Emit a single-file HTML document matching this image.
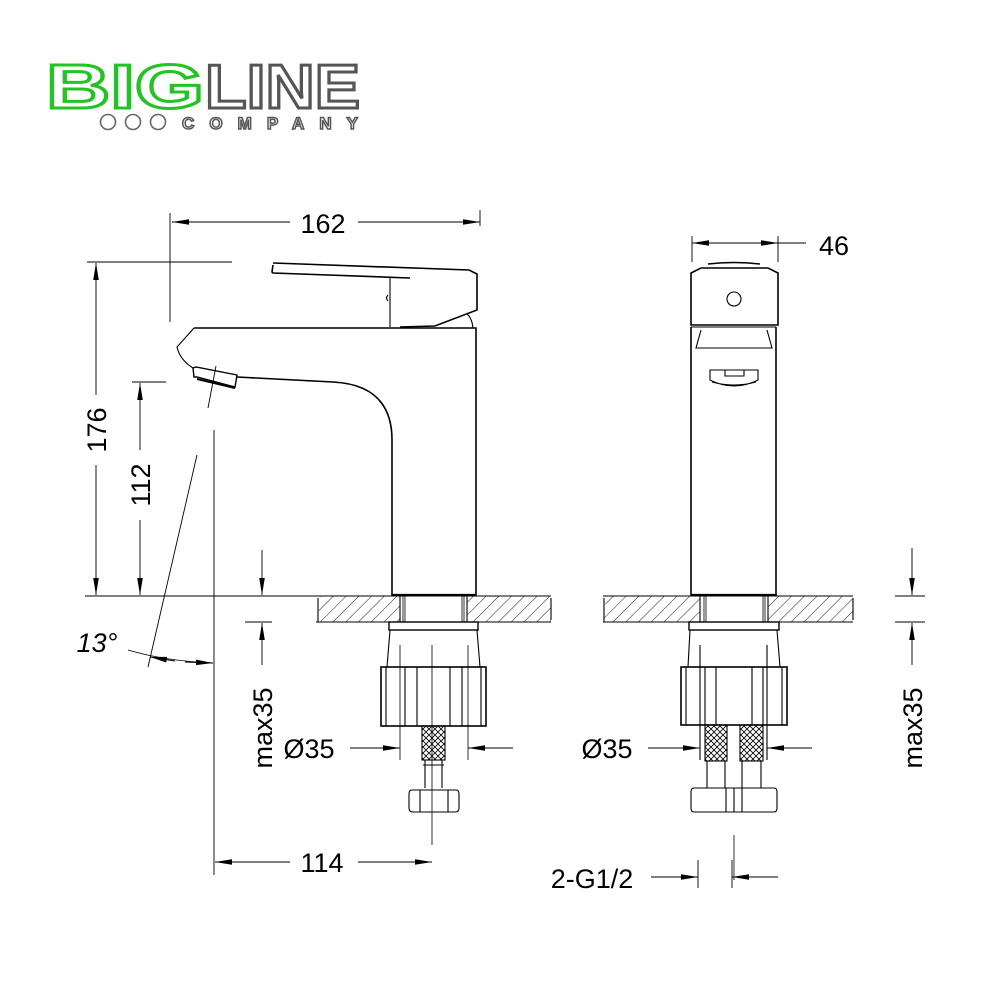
<!DOCTYPE html>
<html><head><meta charset="utf-8"><style>html,body{margin:0;padding:0;background:#fff}svg{display:block}</style></head>
<body>
<svg width="1000" height="1000" viewBox="0 0 1000 1000" xmlns="http://www.w3.org/2000/svg">
<defs>
<pattern id="h" patternUnits="userSpaceOnUse" width="9" height="9" patternTransform="rotate(45)">
<line x1="0" y1="0" x2="0" y2="9" stroke="#000" stroke-width="0.9"/>
</pattern>
<pattern id="x" patternUnits="userSpaceOnUse" width="6" height="6">
<path d="M0 0L6 6M6 0L0 6" stroke="#000" stroke-width="0.8"/>
</pattern>
<marker id="a" viewBox="0 0 10 10" refX="10" refY="5" markerWidth="17" markerHeight="7" markerUnits="userSpaceOnUse" orient="auto-start-reverse" preserveAspectRatio="none"><path d="M0 1L10 5L0 9z" fill="#000"/></marker>
</defs>
<rect width="1000" height="1000" fill="#fff"/>
<!-- logo -->
<g font-family="Liberation Sans, sans-serif" font-weight="bold">
<text x="46" y="108" font-size="62" fill="#fff" stroke="#22c322" stroke-width="3" textLength="158" lengthAdjust="spacingAndGlyphs">BIG</text>
<text x="205" y="108" font-size="62" fill="#fff" stroke="#555" stroke-width="3" textLength="155" lengthAdjust="spacingAndGlyphs">LINE</text>
<g fill="none" stroke="#666" stroke-width="1.6"><circle cx="108" cy="122" r="7.5"/><circle cx="133" cy="122" r="7.5"/><circle cx="158" cy="122" r="7.5"/></g>
<text x="182" y="129" font-size="17" fill="#fff" stroke="#555" stroke-width="1.5" textLength="176" lengthAdjust="spacing">COMPANY</text>
</g>
<g fill="none" stroke="#000" stroke-width="1.1" font-family="Liberation Sans, sans-serif">
<!-- front countertop -->
<path d="M320 596H400V622H318Z M467 596H551V622H467Z" fill="url(#h)" stroke="none"/>
<path d="M316 596H551M316 622H551M318 598V622M551 598V620M400 596V622M467 596V622"/>
<path d="M403 596V622M405 596V622M462 596V622M464 596V622" stroke-width="0.8"/>
<!-- front body -->
<path d="M194 328H476V595H392V440Q392 385 333 382L237 377" stroke-width="1.6"/>
<path d="M392 595H476" stroke-width="2.2"/>
<path d="M194 328L177 347Q180 360 193 368"/>
<path d="M193 368L196 367L237 375L235 387L197 377L194 377Z" stroke-width="1.4"/>
<path d="M197 379L235 388" stroke-width="2"/>
<!-- handle -->
<path d="M273 265L272 272L273 273L410 278M273 263L469 270L477 274V310L435 326L400 327" stroke-width="1.6"/>
<path d="M390 278V327M388 295q-3 3 0 6"/>
<path d="M467 314Q472 318 473 328"/>
<!-- under front -->
<rect x="389" y="622" width="89" height="8" stroke-width="1.4"/>
<path d="M390 630L387 667M477 630L480 667"/>
<rect x="381" y="667" width="105" height="59" stroke-width="1.6"/>
<path d="M386 667V726M405 667V726M417 667V726M450 667V726M462 667V726M481 667V726"/>
<path d="M400 645V760M468 645V760" stroke-width="0.8"/>
<rect x="422" y="726" width="23" height="34" fill="url(#x)"/>
<path d="M425 760V788M442 760V788M423 765H444"/>
<path d="M412 790H456Q459 790 459 794V808Q459 812 455 812H413Q409 812 409 808V794Q409 790 412 790ZM420 790V812M448 790V812"/>
<path d="M432 645V845" stroke-width="0.8"/>
<!-- front dims -->
<path d="M170 213V322M87 262H232M480 210V226" stroke-width="0.9"/>
<line x1="290" y1="222" x2="172" y2="222" marker-end="url(#a)" stroke-width="0.9"/>
<line x1="358" y1="222" x2="480" y2="222" marker-end="url(#a)" stroke-width="0.9"/>
<line x1="96" y1="395" x2="96" y2="263" marker-end="url(#a)" stroke-width="0.9"/>
<line x1="96" y1="465" x2="96" y2="595" marker-end="url(#a)" stroke-width="0.9"/>
<path d="M132 382H166M85 596H316" stroke-width="0.9"/>
<line x1="140" y1="450" x2="140" y2="383" marker-end="url(#a)" stroke-width="0.9"/>
<line x1="140" y1="520" x2="140" y2="595" marker-end="url(#a)" stroke-width="0.9"/>
<path d="M214 430V875" stroke-width="0.9"/>
<path d="M216 366L208 408M197 455L148 667" stroke-width="0.9"/>
<path d="M128 650Q165 661 213 663" stroke-width="0.9"/>
<line x1="175" y1="661" x2="150" y2="657" marker-end="url(#a)" stroke-width="0.9"/>
<line x1="185" y1="662" x2="213" y2="663" marker-end="url(#a)" stroke-width="0.9"/>
<line x1="262" y1="550" x2="262" y2="595" marker-end="url(#a)" stroke-width="0.9"/>
<line x1="262" y1="665" x2="262" y2="623" marker-end="url(#a)" stroke-width="0.9"/>
<path d="M245 622H272" stroke-width="0.9"/>
<line x1="350" y1="748" x2="400" y2="748" marker-end="url(#a)" stroke-width="0.9"/>
<line x1="513" y1="748" x2="468" y2="748" marker-end="url(#a)" stroke-width="0.9"/>
<line x1="290" y1="862" x2="215" y2="862" marker-end="url(#a)" stroke-width="0.9"/>
<line x1="358" y1="862" x2="432" y2="862" marker-end="url(#a)" stroke-width="0.9"/>
<!-- side view -->
<path d="M606 596H700V622H604Z M768 596H853V622H768Z" fill="url(#h)" stroke="none"/>
<path d="M603 596H853M603 622H853M604 598V622M853 598V620M700 596V622M768 596V622"/>
<path d="M704 596V622M706 596V622M763 596V622M765 596V622" stroke-width="0.8"/>
<path d="M691 327V595H776V327" stroke-width="1.6"/>
<path d="M691 595H776" stroke-width="2.2"/>
<path d="M691 325V273L701 268H768L778 273V325Z" stroke-width="1.6"/>
<path d="M708 264Q734 261 760 264" stroke-width="1.6"/>
<circle cx="734" cy="299" r="7"/>
<path d="M691 327H776M701 330L696 348H772L767 330" />
<path d="M710 370H758V380Q734 392 710 380ZM725 370V376H744V370M712 382Q734 388 756 382"/>
<rect x="689" y="622" width="90" height="8" stroke-width="1.4"/>
<path d="M690 630L688 667M777 630L780 667M700 645V760M767 645V760" />
<rect x="681" y="667" width="106" height="58" stroke-width="1.6"/>
<path d="M686 667V725M705 667V725M716 667V725M752 667V725M763 667V725M782 667V725"/>
<rect x="705" y="725" width="22" height="36" fill="url(#x)"/>
<rect x="740" y="725" width="23" height="36" fill="url(#x)"/>
<path d="M707 761V788M725 761V788M742 761V788M761 761V788"/>
<path d="M694 788H774Q777 788 777 792V808Q777 812 774 812H694Q691 812 691 808V792Q691 788 694 788ZM726 788V812M742 788V812M734 788V812"/>
<path d="M734 835V880" stroke-width="0.8"/>
<!-- side dims -->
<path d="M692 236V262M778 236V262M778 243H806" stroke-width="0.9"/>
<line x1="735" y1="243" x2="692" y2="243" marker-end="url(#a)" stroke-width="0.9"/>
<line x1="735" y1="243" x2="778" y2="243" marker-end="url(#a)" stroke-width="0.9"/>
<line x1="648" y1="748" x2="700" y2="748" marker-end="url(#a)" stroke-width="0.9"/>
<line x1="812" y1="748" x2="767" y2="748" marker-end="url(#a)" stroke-width="0.9"/>
<path d="M698 860V888M732 860V888" stroke-width="0.9"/>
<line x1="651" y1="877" x2="698" y2="877" marker-end="url(#a)" stroke-width="0.9"/>
<line x1="778" y1="877" x2="732" y2="877" marker-end="url(#a)" stroke-width="0.9"/>
<path d="M895 596H925M895 622H925" stroke-width="0.9"/>
<line x1="912" y1="548" x2="912" y2="595" marker-end="url(#a)" stroke-width="0.9"/>
<line x1="912" y1="665" x2="912" y2="623" marker-end="url(#a)" stroke-width="0.9"/>
</g>
<g font-family="Liberation Sans, sans-serif" font-size="27" fill="#000">
<text x="323" y="233" text-anchor="middle">162</text>
<text x="834" y="255" text-anchor="middle">46</text>
<text transform="translate(106 430) rotate(-90)" text-anchor="middle">176</text>
<text transform="translate(150 485) rotate(-90)" text-anchor="middle">112</text>
<text transform="translate(272 728) rotate(-90)" text-anchor="middle">max35</text>
<text transform="translate(922 728) rotate(-90)" text-anchor="middle">max35</text>
<text x="309" y="758" text-anchor="middle">Ø35</text>
<text x="607" y="758" text-anchor="middle">Ø35</text>
<text x="322" y="872" text-anchor="middle">114</text>
<text x="592" y="888" text-anchor="middle">2-G1/2</text>
<text x="97" y="652" text-anchor="middle" font-style="italic">13°</text>
</g>
</svg>
</body></html>
